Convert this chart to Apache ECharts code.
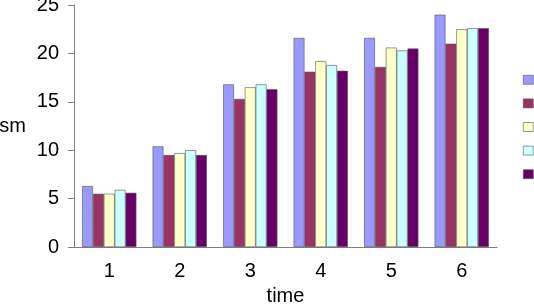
<!DOCTYPE html>
<html>
<head>
<meta charset="utf-8">
<script src="https://cdn.jsdelivr.net/npm/echarts@6/dist/echarts.min.js"></script>
<style>
  html, body { margin: 0; padding: 0; background: #fff; }
  #chart { width: 534px; height: 305px; }
</style>
</head>
<body>
<div id="chart"></div>
<script>
  let categories = ['1', '2', '3', '4', '5', '6'];
  let seriesNames = ['s1', 's2', 's3', 's4', 's5'];
  let colors = ['#9999FF', '#993366', '#FFFFCC', '#CCFFFF', '#660066'];
  let s1 = [6.3, 10.4, 16.8, 21.6, 21.6, 24.0];
  let s2 = [5.5, 9.5, 15.3, 18.1, 18.6, 21.0];
  let s3 = [5.5, 9.7, 16.5, 19.2, 20.6, 22.5];
  let s4 = [5.9, 10.0, 16.8, 18.8, 20.3, 22.6];
  let s5 = [5.6, 9.5, 16.3, 18.2, 20.5, 22.6];
  let values = [s1, s2, s3, s4, s5];

  let axisColor = '#808080';
  let font = 'Liberation Sans, Arial, sans-serif';

  let option = {
    animation: false,
    color: colors,
    grid: {
      left: 74,
      right: 37,
      top: 5,
      bottom: 58,
      outerBoundsMode: 'none'
    },
    legend: {
      orient: 'vertical',
      left: 523,
      top: 75,
      padding: 0,
      icon: 'rect',
      itemWidth: 10,
      itemHeight: 9,
      itemGap: 14,
      data: seriesNames,
      formatter: function () { return ''; },
      itemStyle: { borderColor: '#555', borderWidth: 0.6 }
    },
    xAxis: {
      type: 'category',
      data: categories,
      name: 'time',
      nameLocation: 'middle',
      nameGap: 39,
      nameTextStyle: { color: '#000', fontSize: 20, fontFamily: font },
      axisLine: { lineStyle: { color: axisColor } },
      axisTick: { length: 5, lineStyle: { color: axisColor } },
      axisLabel: { color: '#000', fontSize: 20, fontFamily: font, margin: 14 }
    },
    yAxis: {
      type: 'value',
      min: 0,
      max: 25,
      interval: 5,
      name: 'sm',
      nameLocation: 'middle',
      nameRotate: 0,
      nameGap: 48,
      nameTextStyle: { color: '#000', fontSize: 20, fontFamily: font, padding: [0, 0, 8, 0] },
      axisLine: { show: true, lineStyle: { color: axisColor } },
      axisTick: { show: true, length: 6, lineStyle: { color: axisColor } },
      axisLabel: { color: '#000', fontSize: 20, fontFamily: font, margin: 15 },
      splitLine: { show: false }
    },
    series: values.map(function (v, i) {
      return {
        name: seriesNames[i],
        type: 'bar',
        data: v,
        barGap: '0%',
        barCategoryGap: '23%',
        itemStyle: { borderColor: '#555', borderWidth: 0.6 }
      };
    })
  };

  var myChart = echarts.init(document.getElementById('chart'));
  myChart.setOption(option);
</script>
</body>
</html>
